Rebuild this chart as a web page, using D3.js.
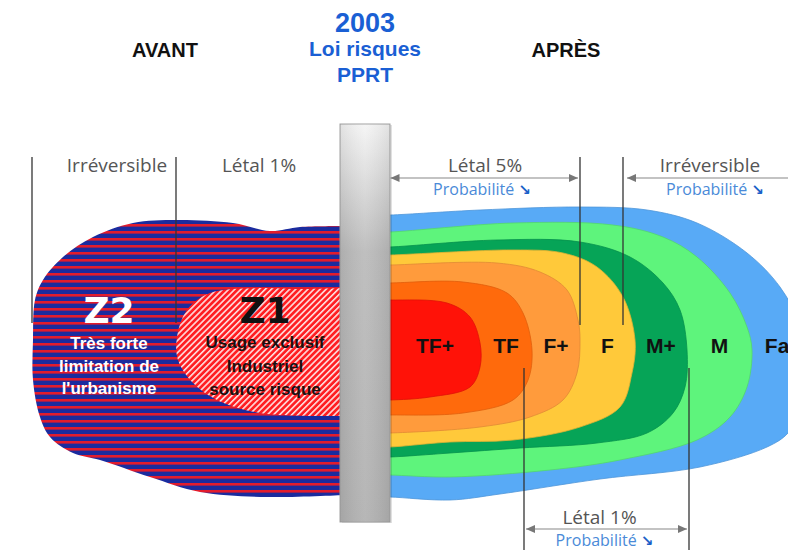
<!DOCTYPE html>
<html><head><meta charset="utf-8">
<script src="https://cdn.jsdelivr.net/npm/d3@7"></script>
<style>body{margin:0;background:#fff}svg{display:block}</style>
</head><body>
<svg id="c" width="788" height="550"></svg>
<script>
// ---------- data ----------
const headerBefore = "AVANT";
const headerAfter = "APRÈS";
const lawLines = ["2003", "Loi risques", "PPRT"];

// effect zones after PPRT, outer to inner
const zoneNames = ["Fai", "M", "M+", "F", "F+", "TF", "TF+"];
// contour of each zone: [distance from source, lateral offset]
const zoneFai = [[0,135],[90,140],[190,143],[257,140],[307,127],[357,97],[390,63],[410,25],[418,-15],[410,-60],[398,-83],[377,-97],[310,-117],[210,-129],[110,-144],[60,-150],[0,-147]];
const zoneM   = [[0,118],[123,127],[223,125],[273,113],[307,93],[340,57],[357,23],[362,0],[357,-37],[340,-67],[307,-90],[230,-110],[160,-120],[60,-127],[0,-125]];
const zoneMp  = [[0,103],[107,110],[190,108],[240,93],[273,67],[290,40],[297,0],[295,-37],[283,-63],[257,-83],[207,-93],[130,-98],[60,-103],[0,-107]];
const zoneF   = [[0,95],[123,100],[173,97],[207,83],[233,53],[245,10],[242,-23],[230,-57],[190,-77],[123,-90],[60,-92],[0,-97]];
const zoneFp  = [[0,85],[107,87],[150,78],[177,60],[188,30],[190,10],[187,-23],[173,-50],[140,-67],[90,-77],[0,-83]];
const zoneTF  = [[0,67],[73,68],[117,57],[133,37],[142,0],[138,-30],[123,-50],[73,-63],[0,-65]];
const zoneTFp = [[0,50],[57,47],[80,33],[90,7],[90,-17],[80,-37],[40,-47],[0,-50]];
const zoneOutlines = [zoneFai, zoneM, zoneMp, zoneF, zoneFp, zoneTF, zoneTFp];

// zones before PPRT
const z2Outline = [[-45,124],[-90,123],[-120,119],[-157,127],[-213,130],[-257,127],[-297,113],[-327,93],[-347,70],[-355,50],[-357,10],[-357,-30],[-350,-67],[-340,-87],[-317,-103],[-290,-110],[-240,-127],[-190,-142],[-123,-147],[-45,-145]];
const z1Outline = [[-45,62],[-90,61],[-130,62],[-180,57],[-203,40],[-213,13],[-212,-10],[-197,-33],[-173,-50],[-130,-63],[-45,-66]];
const z2Title = "Z2";
const z2Lines = ["Très forte", "limitation de", "l'urbanisme"];
const z1Title = "Z1";
const z1Lines = ["Usage exclusif", "Industriel", "source risque"];

// thresholds (distances)
const beforeThresholds = ["Irréversible", "Létal 1%"];
const beforeDist = [-358, -214, -2];
const afterTopThresholds = ["Létal 5%", "Irréversible"];
const afterTopDist = [190, 233];
const afterBottomThresholds = ["Létal 1%"];
const afterBottomDist = [134, 299];
const probaLabel = "Probabilité";

// ---------- styles ----------
const zoneColor = d3.scaleOrdinal().domain(zoneNames)
  .range(["#58aaf6", "#5ef47c", "#06a457", "#ffc93a", "#ff9b3c", "#ff6a0c", "#ff1208"]);
const blueZ2 = "#1b2b9e", redZ2 = "#e31c2c";
const gray = "#555", probaBlue = "#4a8ad8", arrowBlue = "#1c5fc8";
const boldFont = "'Liberation Sans', Arial, sans-serif";
const lightFont = "'Open Sans', 'Liberation Sans', sans-serif";

// ---------- scales ----------
const W = 788, H = 550;
const x = d3.scaleLinear().domain([-390, 398]).range([0, 788]);
const y = d3.scaleLinear().domain([200, -200]).range([150, 550]);

const svg = d3.select("#c");
const defs = svg.append("defs");

// patterns
const p2 = defs.append("pattern").attr("id", "z2pat").attr("patternUnits", "userSpaceOnUse")
  .attr("width", 8).attr("height", 7);
p2.append("rect").attr("width", 8).attr("height", 7).attr("fill", blueZ2);
p2.append("rect").attr("y", 0).attr("width", 8).attr("height", 2.6).attr("fill", redZ2);

const p1 = defs.append("pattern").attr("id", "z1pat").attr("patternUnits", "userSpaceOnUse")
  .attr("width", 6).attr("height", 4.3).attr("patternTransform", "rotate(-45)");
p1.append("rect").attr("width", 6).attr("height", 4.3).attr("fill", "#ff1e22");
p1.append("rect").attr("y", 0).attr("width", 6).attr("height", 1.6).attr("fill", "#ffdede");

const pg = defs.append("linearGradient").attr("id", "pillarGrad").attr("x1", 0).attr("x2", 0).attr("y1", 0).attr("y2", 1);
pg.append("stop").attr("offset", "0%").attr("stop-color", "#f5f5f5");
pg.append("stop").attr("offset", "32%").attr("stop-color", "#bcbcbc");
pg.append("stop").attr("offset", "100%").attr("stop-color", "#b3b3b3");
const ph = defs.append("linearGradient").attr("id", "pillarSide").attr("x1", 0).attr("x2", 1).attr("y1", 0).attr("y2", 0);
ph.append("stop").attr("offset", "0%").attr("stop-color", "#000").attr("stop-opacity", 0.08);
ph.append("stop").attr("offset", "50%").attr("stop-color", "#fff").attr("stop-opacity", 0.05);
ph.append("stop").attr("offset", "100%").attr("stop-color", "#000").attr("stop-opacity", 0.08);

const outline = d3.line().x(d => x(d[0])).y(d => y(d[1])).curve(d3.curveCatmullRom.alpha(0.5));

// ---------- before: Z2 / Z1 ----------
svg.append("path").attr("d", outline(z2Outline) + "Z").attr("fill", "url(#z2pat)");
svg.append("path").attr("d", outline(z1Outline) + "Z").attr("fill", "url(#z1pat)");

const z2cx = x(d3.mean(beforeDist.slice(0, 2)) + 5);
svg.append("text").attr("x", z2cx).attr("y", y(27)).attr("text-anchor", "middle")
  .attr("font-family", "'DejaVu Sans', sans-serif").attr("font-weight", "bold").attr("font-size", 36)
  .attr("fill", "#fff").text(z2Title);
z2Lines.forEach((t, i) => svg.append("text").attr("x", z2cx).attr("y", y(1 - i * 22.5))
  .attr("text-anchor", "middle").attr("font-family", boldFont).attr("font-weight", "bold")
  .attr("font-size", 17).attr("fill", "#fff").text(t));

const z1cx = x(d3.extent(z1Outline, d => d[0]).reduce((a, b) => a + b) / 2 + 4);
svg.append("text").attr("x", z1cx).attr("y", y(27)).attr("text-anchor", "middle")
  .attr("font-family", "'DejaVu Sans', sans-serif").attr("font-weight", "bold").attr("font-size", 36)
  .attr("fill", "#111").text(z1Title);
z1Lines.forEach((t, i) => svg.append("text").attr("x", z1cx).attr("y", y(2 - i * 23.5))
  .attr("text-anchor", "middle").attr("font-family", boldFont).attr("font-weight", "bold")
  .attr("font-size", 17).attr("fill", "#1a1010").text(t));

// ---------- after: effect zones ----------
zoneOutlines.forEach((o, i) => {
  const pts = [[-14, o[0][1]], ...o, [-14, o[o.length - 1][1]]];
  const c = zoneColor(zoneNames[i]);
  svg.append("path").attr("d", outline(pts) + "Z").attr("fill", c)
    .attr("stroke", d3.color(c).darker(0.35)).attr("stroke-width", 0.8);
});
// zone labels between consecutive reaches
const reach = zoneOutlines.map(o => d3.max(o, d => d[0]));
zoneNames.forEach((n, i) => {
  const outer = reach[i], inner = i < reach.length - 1 ? reach[i + 1] : 0;
  svg.append("text").attr("x", x((outer + inner) / 2)).attr("y", y(-3)).attr("text-anchor", "middle")
    .attr("font-family", boldFont).attr("font-weight", "bold").attr("font-size", 21)
    .attr("fill", "#111").text(n);
});

// ---------- threshold lines ----------
const lineColor = "#333";
function vline(d, y0, y1) {
  svg.append("line").attr("x1", x(d)).attr("x2", x(d)).attr("y1", y(y0)).attr("y2", y(y1))
    .attr("stroke", lineColor).attr("stroke-width", 1.3);
}
beforeDist.slice(0, 2).forEach(d => vline(d, 193, 27));
afterTopDist.forEach(d => vline(d, 193, 25));
afterBottomDist.forEach(d => vline(d, -18, -205));

// ---------- pillar ----------
const pillar = svg.append("g");
pillar.append("rect").attr("x", x(-49) + 1).attr("y", y(226) + 1).attr("width", x(0) - x(-50)).attr("height", y(-172) - y(226))
  .attr("fill", "#000").attr("opacity", 0.12);
pillar.append("rect").attr("x", x(-50)).attr("y", y(226)).attr("width", x(0) - x(-50)).attr("height", y(-172) - y(226))
  .attr("fill", "url(#pillarGrad)").attr("stroke", "#a2a2a2").attr("stroke-width", 1);
pillar.append("rect").attr("x", x(-50)).attr("y", y(226)).attr("width", x(0) - x(-50)).attr("height", y(-172) - y(226))
  .attr("fill", "url(#pillarSide)");

// ---------- headers ----------
function txt(s, xx, yy, size, color, weight, family, anchor) {
  return svg.append("text").attr("x", xx).attr("y", yy).attr("font-size", size).attr("fill", color)
    .attr("font-weight", weight || "normal").attr("font-family", family || boldFont)
    .attr("text-anchor", anchor || "middle").text(s);
}
txt(headerBefore, 165, 57, 20, "#111", "bold");
txt(headerAfter, 566, 57, 20, "#111", "bold");
txt(lawLines[0], 365, 32, 27, "#1a5fd4", "bold");
txt(lawLines[1], 365, 56, 21, "#1a5fd4", "bold");
txt(lawLines[2], 365, 82, 21, "#1a5fd4", "bold");

// ---------- threshold labels ----------
beforeThresholds.forEach((t, i) => {
  const mid = i === 0 ? (beforeDist[0] + beforeDist[1]) / 2 + 13 : (beforeDist[1] + (-50)) / 2 + 1;
  txt(t, x(mid), y(178), 19, gray, "normal", lightFont);
});

function arrowHead(xt, yy, dir) {
  svg.append("path").attr("d", `M${xt},${yy}L${xt - dir * 9},${yy - 4}L${xt - dir * 9},${yy + 4}Z`).attr("fill", "#777");
}
function hArrow(d0, d1, yy, leftHead, rightHead) {
  const a = x(d0), b = Math.min(x(d1), W + 10);
  svg.append("line").attr("x1", a).attr("x2", b).attr("y1", yy).attr("y2", yy).attr("stroke", "#888").attr("stroke-width", 1.2);
  if (leftHead) arrowHead(a, yy, -1);
  if (rightHead) arrowHead(b, yy, 1);
}
function proba(cx, yy) {
  const t = svg.append("text").attr("x", cx).attr("y", yy).attr("text-anchor", "middle")
    .attr("font-family", lightFont).attr("font-size", 16).attr("fill", probaBlue);
  t.append("tspan").text(probaLabel + " ");
  t.append("tspan").attr("fill", arrowBlue).attr("font-weight", "bold")
    .attr("font-family", "'DejaVu Sans', sans-serif").attr("font-size", 15).text("↘");
}

// after, top
txt(afterTopThresholds[0], x(afterTopDist[0] / 2), y(178), 19, gray, "normal", lightFont);
hArrow(0.5, afterTopDist[0] - 2, y(172), true, true);
proba(x(afterTopDist[0] / 2 - 3), y(155));
txt(afterTopThresholds[1], x(320), y(178), 19, gray, "normal", lightFont);
hArrow(afterTopDist[1] + 4, 420, y(172), true, false);
proba(x(325), y(155));

// after, bottom
const bMid = (afterBottomDist[0] + afterBottomDist[1]) / 2;
txt(afterBottomThresholds[0], x(bMid - 7), y(-174), 19, gray, "normal", lightFont);
hArrow(afterBottomDist[0] + 2, afterBottomDist[1] - 2, y(-179), true, true);
proba(x(bMid - 2), y(-196));
</script>
</body></html>
